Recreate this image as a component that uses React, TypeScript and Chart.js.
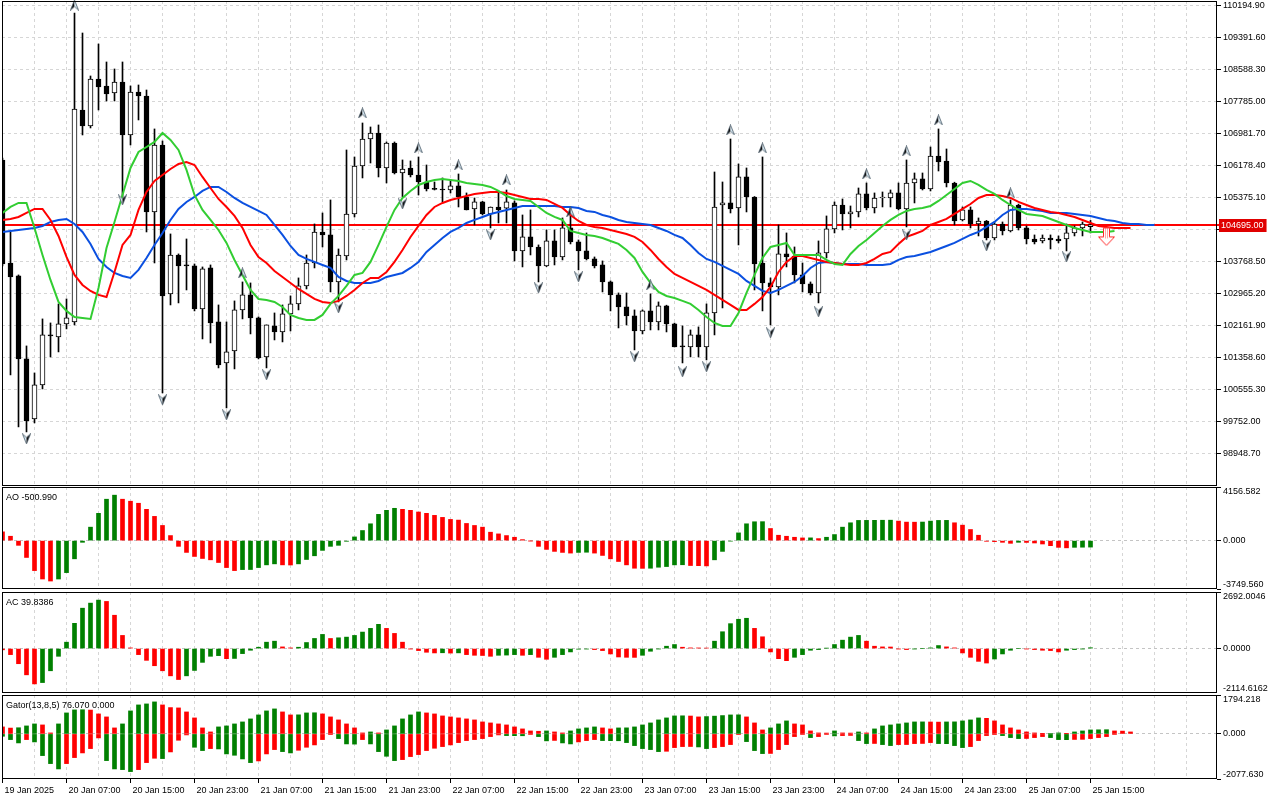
import React, { useEffect, useRef } from 'react';
import { Chart, registerables } from 'chart.js';

Chart.register(...registerables);

// ---------- data (H1 bars, 19 Jan 23:00 -> 25 Jan 15:00) ----------
const timeLabels = ['19 Jan 2025', '20 Jan 07:00', '20 Jan 15:00', '20 Jan 23:00', '21 Jan 07:00', '21 Jan 15:00', '21 Jan 23:00', '22 Jan 07:00', '22 Jan 15:00', '22 Jan 23:00', '23 Jan 07:00', '23 Jan 15:00', '23 Jan 23:00', '24 Jan 07:00', '24 Jan 15:00', '24 Jan 23:00', '25 Jan 07:00', '25 Jan 15:00'];

const priceTicks = [110194.9, 109391.6, 108588.3, 107785.0, 106981.7, 106178.4, 105375.1, 104571.8, 103768.5, 102965.2, 102161.9, 101358.6, 100555.3, 99752.0, 98948.7];
const priceRange = [98127, 110313];
const currentPrice = 104695.0;

const open = [
  106319, 103731, 103405, 101320, 99813, 100667, 101923, 101873, 102199, 102249,
  107575, 107173, 108354, 108178, 108002, 108278, 106947, 108027, 107926, 105013,
  106696, 102953, 103932, 103681, 103656, 102576, 103606, 102249, 101219, 101521,
  102551, 102928, 102350, 101370, 102149, 101998, 102450, 102702, 103154, 103731,
  104510, 104435, 103254, 103907, 104962, 106168, 106846, 106997, 106118, 106746,
  105992, 106118, 105942, 105766, 105590, 105580, 105565, 105666, 105389, 105088,
  105264, 104962, 105138, 105110, 105239, 104033, 104385, 104133, 103656, 104284,
  103882, 104611, 104259, 104033, 103832, 103681, 103254, 102928, 102626, 102400,
  102023, 102526, 102249, 102651, 102199, 101646, 101621, 101923, 101621, 102475,
  105188, 105239, 105113, 105892, 105389, 103731, 103229, 103129, 103958, 103907,
  103430, 103204, 102978, 103983, 104586, 105188, 104962, 105013, 105465, 105113,
  105364, 105364, 105490, 105088, 105741, 105842, 105590, 106419, 106294, 105741,
  104812, 105063, 104711, 104786, 104359, 104711, 104535, 105188, 104611, 104334,
  104284, 104359, 104334, 104334, 104485, 104611, 104640,
];
const high = [
  106369, 104510, 103430, 101646, 100968, 102325, 102224, 102702, 102827, 110011,
  109509, 108429, 109233, 108781, 108605, 108781, 108178, 108203, 108077, 107098,
  106796, 104460, 103958, 104334, 103706, 103631, 103681, 102676, 102249, 102777,
  103254, 103229, 102375, 102174, 102475, 102676, 102902, 103355, 103932, 104711,
  104987, 105314, 104083, 106570, 106394, 107248, 107148, 107198, 106771, 106771,
  106319, 106294, 106394, 106193, 105766, 105867, 105816, 105967, 105490, 105364,
  105280, 105138, 105490, 105565, 105290, 104937, 105063, 104184, 104560, 104560,
  104862, 105113, 104309, 104485, 103882, 103782, 103280, 102978, 102978, 102551,
  102551, 102953, 102752, 102670, 102220, 102149, 102048, 102124, 102702, 106017,
  105766, 106846, 106218, 106118, 105400, 106394, 103355, 104686, 104485, 104133,
  103731, 103254, 104284, 104912, 105264, 105339, 105163, 105615, 105741, 105490,
  105515, 105565, 105741, 106319, 105992, 105992, 106645, 107098, 106595, 105760,
  105138, 105138, 104862, 104800, 104761, 104761, 105314, 105210, 104661, 104435,
  104435, 104435, 104410, 104711, 104661, 104761, 104800,
];
const low = [
  103656, 100918, 99612, 99486, 99712, 100566, 101370, 101496, 102074, 102174,
  106947, 107123, 107575, 107801, 107801, 105389, 106696, 107324, 104510, 103731,
  100466, 102676, 102727, 103053, 102526, 101822, 101722, 101094, 100089, 101069,
  102325, 101948, 101320, 101094, 101797, 101747, 102023, 102551, 103078, 103606,
  104133, 103003, 102752, 103807, 104887, 105867, 106243, 105892, 105741, 105967,
  105389, 105892, 105440, 105540, 105565, 105264, 105490, 105138, 105063, 104686,
  104937, 104611, 104736, 104736, 103782, 103631, 103932, 103254, 103640, 103681,
  103807, 104209, 103556, 103807, 103606, 103003, 102526, 102099, 102174, 101546,
  101948, 102048, 102048, 101998, 101621, 101219, 101370, 101370, 101295, 101923,
  102601, 104987, 104184, 105013, 103053, 102526, 102174, 102928, 103631, 103229,
  103003, 102928, 102727, 103857, 104485, 104560, 104611, 104887, 105063, 104987,
  105138, 105138, 105063, 104636, 105239, 105565, 105540, 106042, 105641, 104686,
  104786, 104611, 104410, 104309, 104309, 104435, 104510, 104560, 104209, 104209,
  104234, 104083, 104234, 104033, 104410, 104410, 104485,
];
const close = [
  103706, 103380, 101320, 99762, 100667, 101923, 101898, 102199, 102350, 107600,
  107173, 108354, 108153, 107977, 108278, 106947, 108027, 107926, 105013, 106696,
  102902, 103932, 103656, 103656, 102576, 103581, 102224, 101169, 101496, 102551,
  102928, 102350, 101345, 102174, 101998, 102450, 102702, 103154, 103731, 104510,
  104435, 103254, 103932, 104962, 106168, 106846, 106997, 106118, 106746, 105992,
  106093, 105942, 105766, 105590, 105580, 105565, 105666, 105389, 105063, 105264,
  104962, 105138, 105063, 105264, 104033, 104385, 104133, 103656, 104284, 103882,
  104611, 104259, 104033, 103832, 103656, 103254, 102928, 102626, 102400, 102023,
  102526, 102249, 102651, 102199, 101621, 101621, 101923, 101621, 102475, 105138,
  105239, 105088, 105892, 105389, 103706, 103229, 103129, 103958, 103882, 103430,
  103204, 102978, 103983, 104586, 105188, 104962, 105013, 105465, 105113, 105364,
  105389, 105490, 105088, 105741, 105842, 105590, 106419, 106269, 105741, 104786,
  105063, 104711, 104786, 104359, 104711, 104535, 105188, 104611, 104334, 104259,
  104359, 104309, 104284, 104485, 104611, 104711, 104695,
];

// Alligator (already shifted: jaw +8, teeth +5, lips +3)
const lips = [
  104987, 105138, 105239, 105239, 104611, 103932, 103304, 102752, 102526, 102375,
  102350, 102325, 103103, 104108, 104761, 105440, 106118, 106520, 106645, 106771,
  106997, 106821, 106570, 106068, 105440, 105063, 104812, 104560, 104234, 103807,
  103430, 103053, 102827, 102802, 102752, 102626, 102425, 102350, 102300, 102300,
  102425, 102702, 102902, 103154, 103430, 103480, 103757, 104184, 104636, 105063,
  105364, 105540, 105691, 105766, 105816, 105842, 105816, 105791, 105741, 105716,
  105691, 105641, 105540, 105414, 105339, 105314, 105289, 105138, 104987, 104887,
  104812, 104535, 104485, 104435, 104410, 104359, 104284, 104209, 104058, 103857,
  103505, 103229, 103003, 102902, 102852, 102777, 102702, 102551, 102375, 102224,
  102149, 102149, 102475, 102978, 103430, 103857, 104133, 104184, 104234, 103932,
  103932, 103932, 103932, 103807, 103706, 103681, 103958, 104158, 104309, 104485,
  104661, 104812, 104937, 105038, 105088, 105113, 105163, 105289, 105440, 105590,
  105741, 105791, 105691, 105565, 105465, 105314, 105188, 105063, 104962, 104937,
  104912, 104837, 104761, 104686, 104611, 104560, 104510, 104510, 104510, 104535,
];
const teeth = [
  104812, 104837, 104887, 104987, 105088, 105088, 104812, 104410, 103882, 103430,
  103179, 103028, 102928, 102877, 103505, 104184, 104435, 105063, 105515, 105791,
  105942, 106093, 106218, 106269, 106193, 105892, 105615, 105339, 105138, 104912,
  104611, 104184, 103882, 103731, 103530, 103380, 103229, 103078, 102953, 102827,
  102752, 102727, 102777, 102902, 103053, 103229, 103355, 103355, 103505, 103757,
  104058, 104385, 104661, 104937, 105138, 105239, 105314, 105364, 105414, 105465,
  105490, 105515, 105515, 105490, 105440, 105389, 105339, 105339, 105314, 105213,
  105113, 104937, 104786, 104686, 104636, 104611, 104560, 104510, 104460, 104385,
  104259, 104058, 103832, 103631, 103455, 103355, 103254, 103154, 103053, 102928,
  102802, 102676, 102551, 102551, 102702, 102877, 103129, 103505, 103757, 103907,
  103907, 103857, 103807, 103757, 103731, 103706, 103681, 103681, 103731, 103832,
  103958, 104008, 104209, 104385, 104460, 104535, 104686, 104761, 104837, 104962,
  105088, 105213, 105364, 105440, 105440, 105414, 105364, 105264, 105188, 105113,
  105063, 105013, 104987, 104937, 104887, 104812, 104736, 104661, 104636, 104611,
  104611, 104611,
];
const jaw = [
  104510, 104535, 104560, 104586, 104611, 104661, 104761, 104812, 104837, 104711,
  104510, 104209, 103832, 103631, 103480, 103405, 103355, 103556, 103857, 104184,
  104485, 104812, 105088, 105264, 105389, 105540, 105641, 105641, 105515, 105364,
  105239, 105138, 105038, 104937, 104686, 104435, 104158, 103932, 103832, 103757,
  103681, 103606, 103380, 103279, 103229, 103229, 103229, 103279, 103380, 103430,
  103480, 103606, 103757, 104008, 104184, 104359, 104510, 104611, 104736, 104812,
  104887, 104962, 105013, 105063, 105113, 105163, 105163, 105163, 105163, 105163,
  105138, 105138, 105113, 105038, 105013, 104937, 104887, 104812, 104761, 104736,
  104711, 104686, 104611, 104535, 104435, 104359, 104184, 103983, 103832, 103757,
  103656, 103556, 103455, 103279, 103154, 103028, 102978, 103053, 103154, 103254,
  103405, 103606, 103731, 103757, 103731, 103706, 103706, 103706, 103681, 103681,
  103681, 103706, 103807, 103882, 103907, 103958, 104008, 104083, 104158, 104234,
  104334, 104435, 104510, 104636, 104761, 104937, 105063, 105088, 105088, 105063,
  105038, 104987, 104987, 104987, 104962, 104937, 104912, 104862, 104812, 104786,
  104736, 104711, 104711, 104686, 104686,
];

// Fractal markers and the sell signal arrow
const fractalUpIdx = [9, 30, 45, 52, 57, 63, 71, 81, 91, 95, 108, 113, 117, 126];
const fractalUpVal = [110212, 103480, 107499, 106620, 106193, 105816, 105013, 103179, 107072, 106620, 105967, 106545, 107324, 105490];
const fractalDownIdx = [3, 15, 20, 28, 33, 42, 50, 61, 67, 72, 79, 85, 88, 96, 102, 113, 123, 133];
const fractalDownVal = [99310, 105314, 100290, 99913, 100918, 102601, 105213, 104435, 103103, 103380, 101370, 100993, 101119, 101973, 102501, 104435, 104158, 103882];
const signalIdx = [138];
const signalVal = [104385];

// Awesome Oscillator
const aoRange = [-3749.56, 4156.582];
const ao = [
  680, 340, -365, -1305, -2323, -2975, -3132, -2975, -2480, -1410,
  -130, 1044, 2114, 3210, 3524, 3210, 3054, 2897, 2427, 1879,
  1175, 392, -444, -914, -1227, -1384, -1488, -1697, -2088, -2323,
  -2245, -2240, -2088, -1879, -1801, -1879, -1890, -1801, -1462, -1175,
  -757, -444, -365, -52, 287, 783, 1305, 2036, 2349, 2506,
  2427, 2349, 2219, 2114, 1958, 1801, 1644, 1592, 1331, 1175,
  1044, 653, 522, 392, 261, 78, -20, -444, -680, -835,
  -914, -966, -914, -900, -966, -1148, -1410, -1618, -1879, -2140,
  -2150, -2140, -2062, -2010, -1879, -1870, -1931, -1940, -1960, -1488,
  -835, -40, 600, 1305, 1462, 1470, 940, 418, 339, 261,
  209, 215, 157, 261, 470, 1044, 1383, 1566, 1570, 1575,
  1580, 1585, 1514, 1436, 1430, 1440, 1514, 1566, 1570, 1383,
  1200, 861, 418, -52, -78, -130, -209, -130, -140, -183,
  -261, -392, -522, -560, -520, -510, -500.99,
];

// Accelerator Oscillator
const acRange = [-2114.6162, 2692.0046];
const ac = [
  -60, -288, -721, -1250, -1682, -1618, -1057, -368, 304, 1202,
  1922, 2163, 2307, 2243, 1586, 625, 32, -288, -561, -817,
  -1057, -1298, -1474, -1298, -1041, -657, -368, -336, -481, -470,
  -240, -80, 64, 304, 352, 80, 32, 64, 288, 481,
  673, 480, 513, 545, 625, 785, 961, 1153, 961, 721,
  304, -16, -96, -176, -208, -200, -215, -205, -288, -320,
  -330, -368, -320, -310, -288, -320, -288, -416, -510, -416,
  -288, -160, -30, -20, -48, -96, -256, -400, -416, -420,
  -320, -128, -16, 112, 192, 64, 32, 30, 25, 352,
  801, 1185, 1394, 1442, 961, 561, -160, -481, -577, -416,
  -288, -80, -48, 16, 192, 400, 545, 625, 352, 112,
  80, 75, -16, -48, -16, 0, 32, 144, 80, 32,
  -208, -416, -609, -689, -497, -256, -80, 0, -16, -48,
  -80, -96, -160, -80, -48, -16, 39.8386,
];

// Gator Oscillator
const gatorRange = [-2077.63, 1794.218];
const gatorUp = [
  323, 270, 285, 369, 461, 415, 46, 461, 968, 1107,
  1115, 1100, 922, 784, 277, 461, 1061, 1337, 1383, 1476,
  1337, 1214, 1199, 1014, 738, 277, 92, 323, 369, 461,
  553, 692, 876, 1061, 1153, 1014, 876, 880, 968, 975,
  922, 784, 646, 461, 277, 46, 92, 46, 184, 369,
  692, 876, 1014, 968, 922, 830, 784, 738, 692, 646,
  553, 507, 461, 415, 323, 231, 138, 123, 138, 92,
  46, 138, 231, 277, 323, 277, 231, 277, 280, 323,
  415, 507, 646, 738, 830, 835, 825, 784, 800, 820,
  846, 876, 880, 784, 507, 184, 277, 461, 600, 461,
  415, 138, 46, 40, 138, 46, 40, 92, 46, 231,
  369, 415, 461, 507, 553, 555, 550, 545, 553, 556,
  600, 646, 738, 720, 600, 415, 277, 184, 92, 46,
  10, 20, 46, 10, 92, 138, 184, 190, 195, 138,
  130, 92,
];
const gatorDown = [
  -108, -261, -415, -261, -369, -999, -1368, -1614, -1368, -1091,
  -876, -676, -184, -1230, -1614, -1645, -1737, -1645, -1322, -1122,
  -1137, -830, -292, -46, -615, -768, -676, -692, -922, -984,
  -1153, -1322, -1245, -922, -722, -815, -876, -753, -615, -507,
  -261, -30, -215, -461, -470, -261, -461, -815, -1030, -1230,
  -1184, -1045, -953, -768, -661, -584, -507, -400, -307, -261,
  -215, -123, -46, -77, -80, -85, -10, -123, -320, -300,
  -415, -461, -369, -307, -261, -307, -310, -315, -400, -538,
  -676, -722, -815, -800, -630, -584, -580, -600, -676, -630,
  -584, -492, -30, -354, -768, -907, -900, -722, -492, -123,
  -5, -169, -123, -15, -92, -77, -70, -307, -446, -440,
  -492, -538, -492, -490, -446, -440, -400, -446, -450, -538,
  -630, -584, -307, -77, -30, -77, -169, -215, -210, -169,
  -123, -169, -261, -265, -255, -250, -215, -169, -123, -10,
];

// ---------- styling ----------
const FONT_FAMILY = "'Liberation Sans', Arial, sans-serif";
const FONT_SIZE = 9;
const AXIS_FONT = `${FONT_SIZE}px ${FONT_FAMILY}`;
const GRID = '#d6d6d6';
const UP = '#008000';
const DOWN = '#ff0000';
const X_MIN = -0.0625;
const X_MAX = 151.8125;
const gridTicks = Array.from({ length: 38 }, (_, k) => k * 4);

const histColors = (arr: number[]) => arr.map((v, i) => (i > 0 && v > arr[i - 1] ? UP : DOWN));
const absColors = (arr: number[]) => arr.map((v, i) => (i === 0 || Math.abs(v) > Math.abs(arr[i - 1]) ? UP : DOWN));
const hasLabel = (v: number) => v % 8 === 0 && v / 8 < timeLabels.length;

function xScale(showLabels: boolean) {
  return {
    type: 'linear',
    min: X_MIN,
    max: X_MAX,
    offset: false,
    afterBuildTicks: (ax: any) => {
      ax.ticks = gridTicks.map((v) => ({ value: v }));
    },
    afterFit: (ax: any) => {
      ax.height = showLabels ? 21 : 0;
      ax.paddingLeft = 0;
      ax.paddingRight = 0;
    },
    ticks: showLabels
      ? {
          display: true,
          autoSkip: false,
          maxRotation: 0,
          minRotation: 0,
          align: 'start',
          labelOffset: 2,
          padding: 2,
          color: '#000',
          font: { size: FONT_SIZE, family: FONT_FAMILY },
          callback: (v: number) => (hasLabel(v) ? timeLabels[v / 8] : ''),
        }
      : { display: false },
    grid: {
      display: true,
      color: GRID,
      lineWidth: 1,
      offset: false,
      drawTicks: showLabels,
      tickLength: 4,
      tickColor: (c: any) => (c.tick && hasLabel(c.tick.value) ? '#000' : 'rgba(0,0,0,0)'),
    },
    border: { display: false, dash: [3, 3] },
  };
}

function subY(range: number[], dec: number) {
  const lo = range[0];
  const hi = range[1];
  return {
    position: 'right',
    min: lo,
    max: hi,
    afterBuildTicks: (ax: any) => {
      ax.ticks = [lo, 0, hi].map((v) => ({ value: v }));
    },
    afterFit: (ax: any) => {
      ax.width = 63;
      ax.paddingTop = 0;
      ax.paddingBottom = 0;
    },
    ticks: {
      autoSkip: false,
      padding: 2,
      color: '#000',
      font: { size: FONT_SIZE, family: FONT_FAMILY, lineHeight: 1 },
      callback: (v: number) => (v === hi ? ['', hi.toFixed(dec)] : v === lo ? [lo.toFixed(dec), ''] : (0).toFixed(dec)),
    },
    grid: {
      color: (c: any) => (c.tick && c.tick.value === 0 ? '#c4c4c4' : 'rgba(0,0,0,0)'),
      drawTicks: true,
      tickLength: 4,
      tickColor: '#000',
    },
    border: { display: false, dash: [3, 3] },
  };
}

function panelPlugin(opts: { title?: string; price?: number }) {
  return {
    id: 'panelDecor',
    beforeDatasetsDraw(chart: any) {
      if (opts.price === undefined) return;
      const { ctx, chartArea: a } = chart;
      const y = Math.round(chart.scales.y.getPixelForValue(opts.price));
      ctx.save();
      ctx.setLineDash([]);
      ctx.strokeStyle = 'rgb(255,0,0)';
      ctx.lineWidth = 2;
      ctx.beginPath();
      ctx.moveTo(a.left, y);
      ctx.lineTo(a.right + 2, y);
      ctx.stroke();
      ctx.restore();
    },
    afterDraw(chart: any) {
      const { ctx, chartArea: a } = chart;
      ctx.save();
      ctx.setLineDash([]);
      ctx.strokeStyle = '#000';
      ctx.lineWidth = 1;
      ctx.strokeRect(a.left + 0.5, a.top + 0.5, a.right - a.left - 1, a.bottom - a.top - 1);
      ctx.textAlign = 'left';
      ctx.font = AXIS_FONT;
      if (opts.title) {
        ctx.fillStyle = '#000';
        ctx.textBaseline = 'alphabetic';
        ctx.fillText(opts.title, a.left + 4, a.top + 13);
      }
      if (opts.price !== undefined) {
        const y = Math.round(chart.scales.y.getPixelForValue(opts.price));
        const t = opts.price.toFixed(2);
        const w = ctx.measureText(t).width;
        ctx.fillStyle = '#e00000';
        ctx.fillRect(a.right + 2, y - 6, w + 5, 13);
        ctx.fillStyle = '#fff';
        ctx.textBaseline = 'middle';
        ctx.fillText(t, a.right + 4, y + 0.5);
      }
      ctx.restore();
    },
  };
}

function makeFractal(up: boolean) {
  const c = document.createElement('canvas');
  c.width = 9;
  c.height = 11;
  const g = c.getContext('2d')!;
  const apexY = up ? 0.5 : 10.5;
  const baseY = up ? 10.5 : 0.5;
  const notchY = up ? 7 : 4;
  g.beginPath();
  g.moveTo(4.5, apexY);
  g.lineTo(0.5, baseY);
  g.lineTo(4.5, notchY);
  g.closePath();
  g.fillStyle = up ? '#111' : '#d4e6f0';
  g.fill();
  g.beginPath();
  g.moveTo(4.5, apexY);
  g.lineTo(8.5, baseY);
  g.lineTo(4.5, notchY);
  g.closePath();
  g.fillStyle = up ? '#d4e6f0' : '#111';
  g.fill();
  g.beginPath();
  g.moveTo(4.5, apexY);
  g.lineTo(0.5, baseY);
  g.lineTo(4.5, notchY);
  g.lineTo(8.5, baseY);
  g.closePath();
  g.strokeStyle = '#4a5a68';
  g.lineWidth = 0.8;
  g.stroke();
  return c;
}

function makeSignal() {
  const c = document.createElement('canvas');
  c.width = 17;
  c.height = 19;
  const g = c.getContext('2d')!;
  g.beginPath();
  g.moveTo(5.5, 0.5);
  g.lineTo(11.5, 0.5);
  g.lineTo(11.5, 9.5);
  g.lineTo(16.5, 9.5);
  g.lineTo(8.5, 18);
  g.lineTo(0.5, 9.5);
  g.lineTo(5.5, 9.5);
  g.closePath();
  g.fillStyle = '#fff';
  g.fill();
  g.strokeStyle = '#ff2a2a';
  g.lineWidth = 1;
  g.stroke();
  g.beginPath();
  g.moveTo(7.5, 1);
  g.lineTo(7.5, 11);
  g.moveTo(9.5, 1);
  g.lineTo(9.5, 11);
  g.strokeStyle = '#ffa8a8';
  g.stroke();
  return c;
}

const baseOptions = (padTop: number, padBottom: number) => ({
  responsive: false,
  animation: false,
  devicePixelRatio: 1,
  events: [],
  layout: { autoPadding: false, padding: { left: 2, right: 0, top: padTop, bottom: padBottom } },
  plugins: { legend: { display: false }, tooltip: { enabled: false } },
});

export default function App() {
  const mainRef = useRef<HTMLCanvasElement>(null);
  const aoRef = useRef<HTMLCanvasElement>(null);
  const acRef = useRef<HTMLCanvasElement>(null);
  const gatorRef = useRef<HTMLCanvasElement>(null);

  useEffect(() => {
    Chart.defaults.font.family = FONT_FAMILY;
    Chart.defaults.font.size = FONT_SIZE;
    Chart.defaults.color = '#000';
    const charts: Chart[] = [];
    const idx = open.map((_, i) => i);
    const upGlyph = makeFractal(true);
    const downGlyph = makeFractal(false);
    const signalGlyph = makeSignal();

    const line = (arr: number[], color: string, order: number) => ({
      type: 'line',
      data: arr.map((y, i) => ({ x: i, y })),
      borderColor: color,
      borderWidth: 2,
      pointRadius: 0,
      tension: 0,
      order,
    });

    charts.push(
      new Chart(mainRef.current!, {
        type: 'bar',
        data: {
          datasets: [
            { type: 'line', data: signalIdx.map((x, k) => ({ x, y: signalVal[k] })), showLine: false, pointStyle: signalGlyph, pointRadius: 8, order: 0 },
            { type: 'line', data: fractalUpIdx.map((x, k) => ({ x, y: fractalUpVal[k] })), showLine: false, pointStyle: upGlyph, pointRadius: 5, order: 1, clip: false },
            { type: 'line', data: fractalDownIdx.map((x, k) => ({ x, y: fractalDownVal[k] })), showLine: false, pointStyle: downGlyph, pointRadius: 5, order: 1, clip: false },
            line(lips, '#32cd32', 2),
            line(teeth, '#ff0000', 3),
            line(jaw, '#0b50e0', 4),
            {
              type: 'bar',
              data: idx.map((i) => ({ x: i, y: [open[i], close[i]] })),
              backgroundColor: idx.map((i) => (close[i] >= open[i] ? '#ffffff' : '#000000')),
              borderColor: '#000',
              borderWidth: 1,
              borderSkipped: false,
              barThickness: 5,
              minBarLength: 1,
              grouped: false,
              order: 5,
            },
            {
              type: 'bar',
              data: idx.map((i) => ({ x: i, y: [low[i], high[i]] })),
              backgroundColor: '#000',
              borderWidth: 0,
              barThickness: 1,
              grouped: false,
              order: 6,
            },
          ],
        },
        options: {
          ...baseOptions(1, 1),
          scales: {
            x: xScale(false),
            y: {
              position: 'right',
              min: priceRange[0],
              max: priceRange[1],
              afterBuildTicks: (ax: any) => {
                ax.ticks = priceTicks.map((v) => ({ value: v }));
              },
              afterFit: (ax: any) => {
                ax.width = 63;
                ax.paddingTop = 0;
                ax.paddingBottom = 0;
              },
              ticks: { autoSkip: false, padding: 2, color: '#000', font: { size: FONT_SIZE, family: FONT_FAMILY }, callback: (v: number) => Number(v).toFixed(2) },
              grid: { color: GRID, drawTicks: true, tickLength: 4, tickColor: '#000' },
              border: { display: false, dash: [3, 3] },
            },
          },
        },
        plugins: [panelPlugin({ price: currentPrice })],
      } as any)
    );

    const histChart = (canvas: HTMLCanvasElement, values: number[], range: number[], dec: number, title: string, padBottom: number) =>
      new Chart(canvas, {
        type: 'bar',
        data: {
          datasets: [
            {
              type: 'bar',
              data: values.map((y, i) => ({ x: i, y })),
              backgroundColor: histColors(values),
              borderWidth: 0,
              barThickness: 4,
              grouped: false,
            },
          ],
        },
        options: { ...baseOptions(0, padBottom), scales: { x: xScale(false), y: subY(range, dec) } },
        plugins: [panelPlugin({ title })],
      } as any);

    charts.push(histChart(aoRef.current!, ao, aoRange, 3, 'AO -500.990', 1));
    charts.push(histChart(acRef.current!, ac, acRange, 4, 'AC 39.8386', 0));

    charts.push(
      new Chart(gatorRef.current!, {
        type: 'bar',
        data: {
          datasets: [
            { type: 'bar', data: gatorUp.map((y, i) => ({ x: i, y })), backgroundColor: histColors(gatorUp), borderWidth: 0, barThickness: 4, grouped: false },
            { type: 'bar', data: gatorDown.map((y, i) => ({ x: i, y })), backgroundColor: absColors(gatorDown), borderWidth: 0, barThickness: 4, grouped: false },
          ],
        },
        options: { ...baseOptions(1, 0), scales: { x: xScale(true), y: subY(gatorRange, 3) } },
        plugins: [panelPlugin({ title: 'Gator(13,8,5) 76.070 0.000' })],
      } as any)
    );

    return () => charts.forEach((c) => c.destroy());
  }, []);

  const abs = (top: number): React.CSSProperties => ({ position: 'absolute', left: 0, top });
  return (
    <div style={{ position: 'fixed', left: 0, top: 0, width: 1280, height: 800, background: '#fff', overflow: 'hidden' }}>
      <canvas ref={mainRef} width={1280} height={487} style={abs(0)} />
      <canvas ref={aoRef} width={1280} height={103} style={abs(487)} />
      <canvas ref={acRef} width={1280} height={101} style={abs(592)} />
      <canvas ref={gatorRef} width={1280} height={106} style={abs(694)} />
    </div>
  );
}
